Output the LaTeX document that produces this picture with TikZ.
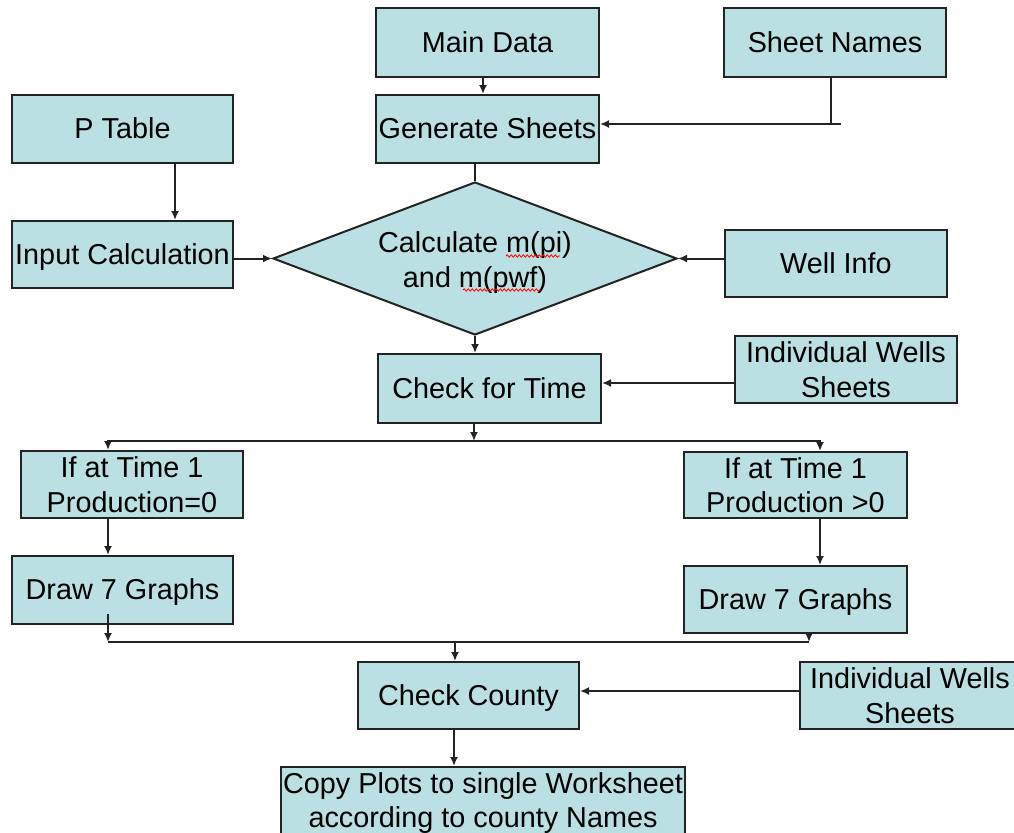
\documentclass[tikz,border=0pt]{standalone}
\usepackage{fontspec}
\setmainfont{Liberation Sans}
\usetikzlibrary{arrows.meta,shapes.geometric,decorations.pathmorphing}
\definecolor{boxfill}{RGB}{187,224,227}
\definecolor{edge}{RGB}{35,35,35}
\begin{document}
\begin{tikzpicture}[x=0.5pt,y=-0.5pt,
  box/.style={draw=edge, fill=boxfill, line width=1pt, inner sep=0pt, align=center, font=\fontsize{14.4}{17.3}\selectfont},
  one/.style={text height=13.03pt, text depth=3.05pt},
  txt/.style={inner sep=0pt, align=center, font=\fontsize{14.4}{17.3}\selectfont},
  arr/.style={draw=edge, line width=1pt, -{Latex[length=4.5pt,width=4pt]}},
  ln/.style={draw=edge, line width=1pt},
  squig/.style={draw=red, line width=0.4pt, decorate, decoration={snake, amplitude=0.6pt, segment length=2pt}}]
\clip (0,0) rectangle (1014,832);
\fill[white] (0,0) rectangle (1014,832);

\node[box, one, minimum width=111.5pt, minimum height=34.5pt] (main) at (487.5,42.5) {Main Data};
\node[box, one, minimum width=111pt, minimum height=34.5pt] (sheet) at (835,42.5) {Sheet Names};
\node[box, one, minimum width=111.5pt, minimum height=34pt] (gen) at (487.5,129) {Generate Sheets};
\node[box, one, minimum width=110.5pt, minimum height=34pt] (ptab) at (122.5,129) {P Table};
\node[box, one, minimum width=110.5pt, minimum height=33.5pt] (inp) at (122.5,254.5) {Input Calculation};
\node[box, diamond, shape aspect=2.64, minimum width=202pt, minimum height=76.5pt] (dia) at (475,258.5) {};
\node[txt] (diatxt) at ([yshift=-2pt]dia.center) {Calculate m(pi)\\and m(pwf)};
\node[box, one, minimum width=111pt, minimum height=33.5pt] (well) at (836,263.5) {Well Info};
\node[box, one, minimum width=111.5pt, minimum height=34.5pt] (time) at (489.5,388.5) {Check for Time};
\node[box, minimum width=111pt, minimum height=33.5pt] (iwsa) at (846,369.5) {Individual Wells\\Sheets};
\node[box, minimum width=111pt, minimum height=33.5pt] (ifz) at (132,484.5) {If at Time 1\\Production=0};
\node[box, minimum width=111.5pt, minimum height=33pt] (ifp) at (795.5,485) {If at Time 1\\Production >0};
\node[box, one, minimum width=110.5pt, minimum height=34pt] (dl) at (122.5,590) {Draw 7 Graphs};
\node[box, one, minimum width=111.5pt, minimum height=33.5pt] (dr) at (795.5,599.5) {Draw 7 Graphs};
\node[box, one, minimum width=110.5pt, minimum height=33.5pt] (cty) at (468.5,695.5) {Check County};
\node[box, minimum width=110pt, minimum height=33.5pt] (iwsb) at (910,695.5) {Individual Wells\\Sheets};
\node[box, minimum width=202pt, minimum height=36pt] (copy) at (483,803) {Copy Plots to single Worksheet\\according to county Names};

% spell-check marks
\draw[squig] (506,256) -- (560,256);
\draw[squig] (463,290) -- (541,290);

% connectors
\coordinate (sj) at (831,124);
\coordinate (sn) at (841,124);
\draw[ln] (sheet.south -| sj) -- (sj);
\draw[arr] (sn) -- (gen.east |- sn);
\draw[arr] (main.south -| 483,0) -- (gen.north -| 483,0);
\draw[arr] (ptab.south -| 175,0) -- (inp.north -| 175,0);
\draw[arr] (inp.east |- dia.west) -- (dia.west);
\draw[ln] (gen.south -| dia.north) -- (dia.north);
\draw[arr] (well.west |- dia.east) -- (dia.east);
\draw[arr] (dia.south) -- (time.north -| dia.south);
\coordinate (ta) at (0,383);
\draw[arr] (iwsa.west |- ta) -- (time.east |- ta);
\coordinate (sp) at (474,441);
\draw[arr] (time.south -| sp) -- (sp);
\draw[arr] (sp) -| (ifz.north -| 108,0);
\draw[arr] (sp) -| (ifp.north -| 820,0);
\draw[arr] (ifz.south -| 108,0) -- (dl.north -| 108,0);
\draw[arr] (ifp.south -| 820,0) -- (dr.north -| 820,0);
\coordinate (jl) at (108,642);
\coordinate (jr) at (809,642);
\coordinate (jm) at (455,642);
\coordinate (dlb) at ([yshift=5.5pt]dl.south);
\draw[arr] (dlb -| jl) -- (jl);
\draw[ln] (jl) -- (jr);
\draw[arr] (dr.south -| jr) -- (jr);
\draw[arr] (jm) -- (cty.north -| jm);
\coordinate (ca) at (0,691);
\draw[arr] (iwsb.west |- ca) -- (cty.east |- ca);
\draw[arr] (cty.south -| 454,0) -- (copy.north -| 454,0);
\end{tikzpicture}
\end{document}
